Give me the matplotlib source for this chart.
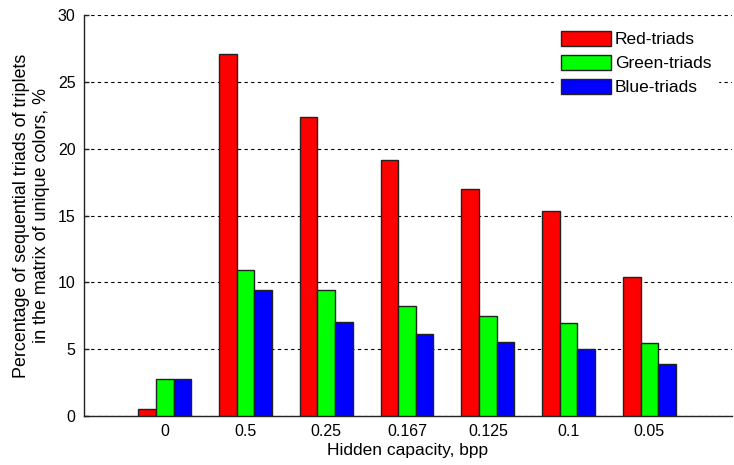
import numpy as np
from matplotlib import pyplot as plt

plt.rcParams['font.family'] = ['Liberation Sans', 'DejaVu Sans']

categories = ['0', '0.5', '0.25', '0.167', '0.125', '0.1', '0.05']
red_triads = [0.5, 27.1, 22.4, 19.15, 16.95, 15.3, 10.4]
green_triads = [2.8, 10.9, 9.4, 8.2, 7.5, 6.95, 5.45]
blue_triads = [2.8, 9.4, 7.05, 6.1, 5.5, 5.0, 3.9]


def plot_figure(filename):
    fig = plt.figure(figsize=(7.34, 4.65), dpi=100)
    ax = fig.add_axes([0.1144, 0.1054, 0.8826, 0.8623])

    x = np.arange(1, len(categories) + 1)
    w = 0.218
    kw = dict(edgecolor='#222222', linewidth=1, zorder=3)
    ax.bar(x - w, red_triads, w, color='#ff0000', label='Red-triads', **kw)
    ax.bar(x, green_triads, w, color='#00ff00', label='Green-triads', **kw)
    ax.bar(x + w, blue_triads, w, color='#0000ff', label='Blue-triads', **kw)

    ax.set_xlim(0, 8.02)
    ax.set_ylim(0, 30)
    ax.set_xticks(x)
    ax.set_xticklabels(categories)
    ax.set_yticks(np.arange(0, 31, 5))
    ax.tick_params(axis='x', direction='in', length=0, labelsize=11.5, pad=6)
    ax.tick_params(axis='y', direction='in', length=3.5, width=1, color='#222222',
                   labelsize=11.5, pad=6)
    ax.yaxis.grid(True, linestyle=(0, (3, 3)), color='black', linewidth=0.8, zorder=0)
    ax.set_axisbelow(True)

    for side in ('top', 'right'):
        ax.spines[side].set_visible(False)
    for side in ('left', 'bottom'):
        ax.spines[side].set_linewidth(1)
        ax.spines[side].set_color('#222222')

    ax.set_xlabel('Hidden capacity, bpp', fontsize=12.5, labelpad=3)
    ax.set_ylabel('Percentage of sequential triads of triplets\nin the matrix of unique colors, %',
                  fontsize=12.9, labelpad=6)

    leg = ax.legend(loc='upper left', bbox_to_anchor=(0.712, 1.0), fontsize=12.5,
                    frameon=True, fancybox=False, handlelength=2.9, handleheight=1.0,
                    labelspacing=0.42, handletextpad=0.2, borderpad=0.4)
    leg.get_frame().set_edgecolor('white')
    leg.get_frame().set_facecolor('white')
    leg.get_frame().set_alpha(1)

    plt.savefig(filename, dpi=100)
    plt.close(fig)


def main():
    plot_figure('out.png')


if __name__ == '__main__':
    main()
